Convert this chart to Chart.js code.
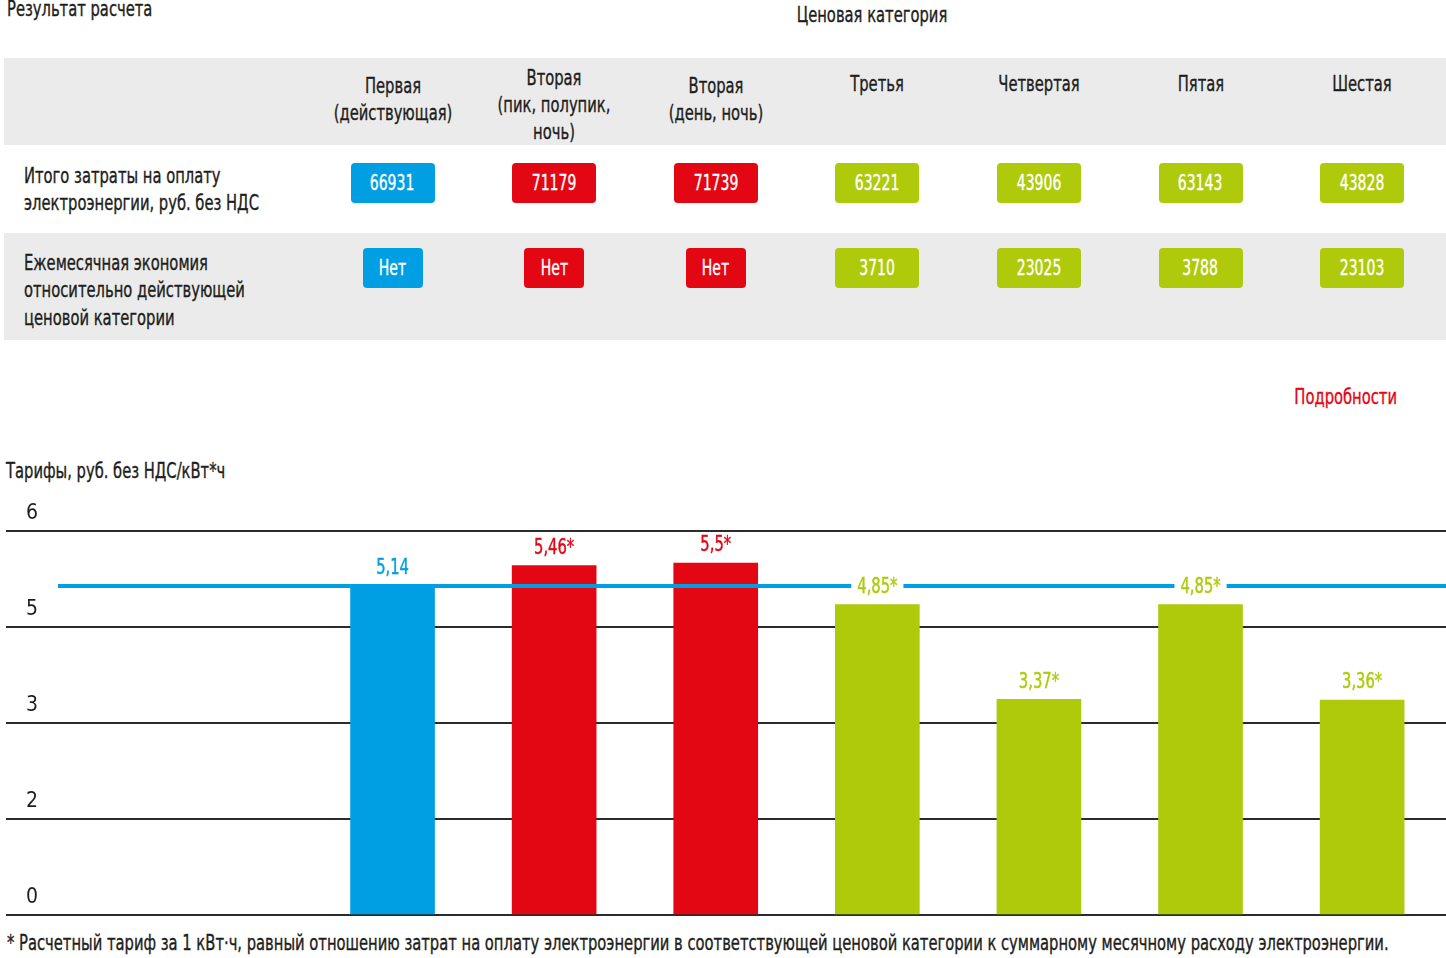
<!DOCTYPE html>
<html lang="ru"><head><meta charset="utf-8">
<script src="https://cdn.jsdelivr.net/npm/chart.js@4"></script>
<style>
html,body{margin:0;padding:0}
body{width:1446px;height:958px;overflow:hidden;background:#fff;position:relative;
 font-family:"DejaVu Sans Condensed","Liberation Sans Narrow",sans-serif;color:#1d1d1b}
.a{position:absolute;white-space:nowrap;font-size:21px;line-height:27px;transform:scaleX(0.78);-webkit-text-stroke:0.35px currentColor}
.l{transform-origin:0 0}
.c{transform-origin:50% 0;text-align:center}
.r{transform-origin:100% 0;text-align:right}
.band{position:absolute;background:#ebebeb}
.pill{position:absolute;height:40px;border-radius:4px;color:#fff;font-size:21px;line-height:40px;text-align:center;white-space:nowrap;-webkit-text-stroke:0.35px #fff}
.pill span{display:inline-block;transform:scaleX(0.74)}
#c{position:absolute;left:0;top:500px}
</style></head><body>
<canvas id="c" width="1446" height="430"></canvas>
<script>
// ---- data ----
const categories = [
  ["Первая","(действующая)"],
  ["Вторая","(пик, полупик,","ночь)"],
  ["Вторая","(день, ночь)"],
  ["Третья"],
  ["Четвертая"],
  ["Пятая"],
  ["Шестая"]
];
const totalCosts = [66931, 71179, 71739, 63221, 43906, 63143, 43828];
const monthlySavings = [null, null, null, 3710, 23025, 3788, 23103];
const tariffs = [5.14, 5.46, 5.5, 4.85, 3.37, 4.85, 3.36];
const yTickLabels = ["0", "2", "3", "5", "6"];
const noSavingText = "Нет";

// ---- styles ----
const BLUE = "#009ee2", RED = "#e30613", GREEN = "#afca0b";
const barColors = [BLUE, RED, RED, GREEN, GREEN, GREEN, GREEN];
const FONT = '"DejaVu Sans Condensed","Liberation Sans Narrow",sans-serif';
const TEXT_SX = 0.78;
const COL0 = 392.5, COLSTEP = 161.6;

function el(cls, text, css) {
  const d = document.createElement('div');
  d.className = cls; if (text !== undefined) d.textContent = text;
  Object.assign(d.style, css || {});
  document.body.appendChild(d); return d;
}
const esc = s => s.replace(/&/g,'&amp;').replace(/</g,'&lt;');

// headings
el('a l', 'Результат расчета', {left:'7px', top:'-4px'});
el('a c', 'Ценовая категория', {left:'722px', width:'300px', top:'2px'});

// table bands
el('band', undefined, {left:'4px', top:'58px', width:'1442px', height:'87px'});
el('band', undefined, {left:'4px', top:'233px', width:'1442px', height:'107px'});

const headTop = {1:70.5, 2:73, 3:64.5};
categories.forEach((lines, i) => {
  const cx = COL0 + COLSTEP * i;
  const d = el('a c', undefined, {left:(cx-100)+'px', width:'200px', top:headTop[lines.length]+'px'});
  d.innerHTML = lines.map(esc).join('<br>');
});

// row labels
const r1 = el('a l', undefined, {left:'24px', top:'162.5px'});
r1.innerHTML = 'Итого затраты на оплату<br>электроэнергии, руб. без НДС';
const r2 = el('a l', undefined, {left:'24px', top:'249.5px', lineHeight:'27.5px'});
r2.innerHTML = 'Ежемесячная экономия<br>относительно действующей<br>ценовой категории';

// pills
function pill(txt, cx, w, top, color) {
  const p = el('pill', undefined, {left:(cx-w/2)+'px', width:w+'px', top:top+'px', background:color});
  const s = document.createElement('span'); s.textContent = txt; p.appendChild(s);
}
totalCosts.forEach((v, i) => pill(String(v), COL0 + COLSTEP * i, 84, 163, barColors[i]));
monthlySavings.forEach((v, i) => {
  const none = v === null;
  pill(none ? noSavingText : String(v), COL0 + COLSTEP * i, none ? 60 : 84, 248, barColors[i]);
});

el('a r', 'Подробности', {left:'1097px', width:'300px', top:'383.5px', color:RED});
el('a l', 'Тарифы, руб. без НДС/кВт*ч', {left:'6px', top:'457.5px'});
el('a l', '* Расчетный тариф за 1 кВт·ч, равный отношению затрат на оплату электроэнергии в соответствующей ценовой категории к суммарному месячному расходу электроэнергии.', {left:'7px', top:'930px'});

// ---- chart ----
const fmt = v => String(v).replace('.', ',');
const baselinePlugin = {
  id: 'baseline',
  afterDatasetsDraw(chart) {
    const {ctx, chartArea, scales} = chart;
    const y = scales.y.getPixelForValue(tariffs[0]);
    ctx.save();
    ctx.strokeStyle = BLUE; ctx.lineWidth = 4;
    ctx.beginPath(); ctx.moveTo(chartArea.left + 52, y); ctx.lineTo(chartArea.right, y); ctx.stroke();
    const meta = chart.getDatasetMeta(0);
    ctx.font = '21px ' + FONT;
    ctx.textAlign = 'center'; ctx.textBaseline = 'middle';
    meta.data.forEach((bar, i) => {
      const txt = fmt(tariffs[i]) + (i === 0 ? '' : '*');
      const w = ctx.measureText(txt).width * TEXT_SX + 12;
      const ly = bar.y - 17;
      if (Math.abs(ly - y) < 14) {
        ctx.fillStyle = '#fff';
        ctx.fillRect(bar.x - w/2, ly - 12, w, 24);
      }
      ctx.save();
      ctx.translate(bar.x, ly);
      ctx.scale(TEXT_SX, 1);
      ctx.fillStyle = barColors[i];
      ctx.strokeStyle = barColors[i];
      ctx.lineWidth = 0.45;
      ctx.fillText(txt, 0, 0);
      ctx.strokeText(txt, 0, 0);
      ctx.restore();
    });
    ctx.restore();
  }
};

new Chart(document.getElementById('c'), {
  type: 'bar',
  data: {
    labels: categories.map(c => c.join(' ')),
    datasets: [{
      data: tariffs.map((v, i) => ({x: i, y: v})),
      backgroundColor: barColors,
      borderWidth: 0,
      barThickness: 84
    }]
  },
  options: {
    responsive: false,
    devicePixelRatio: 1,
    animation: false,
    layout: {padding: {left: 6, right: 0, top: 31, bottom: 15}},
    plugins: {legend: {display: false}, tooltip: {enabled: false}},
    scales: {
      x: {type: 'linear', display: false, offset: false, min: -2.392, max: 6.519},
      y: {
        min: 0, max: 6,
        border: {display: false},
        grid: {color: '#2b2b2b', lineWidth: 2, drawTicks: false},
        ticks: {
          stepSize: 1.5, mirror: true, padding: 20, labelOffset: -17,
          color: '#1d1d1b', font: {size: 21, family: FONT},
          callback: (v, idx) => yTickLabels[idx]
        },
        afterFit(s) { s.width = 0; s.paddingTop = 0; s.paddingBottom = 0; }
      }
    }
  },
  plugins: [baselinePlugin]
});
</script>
</body></html>
